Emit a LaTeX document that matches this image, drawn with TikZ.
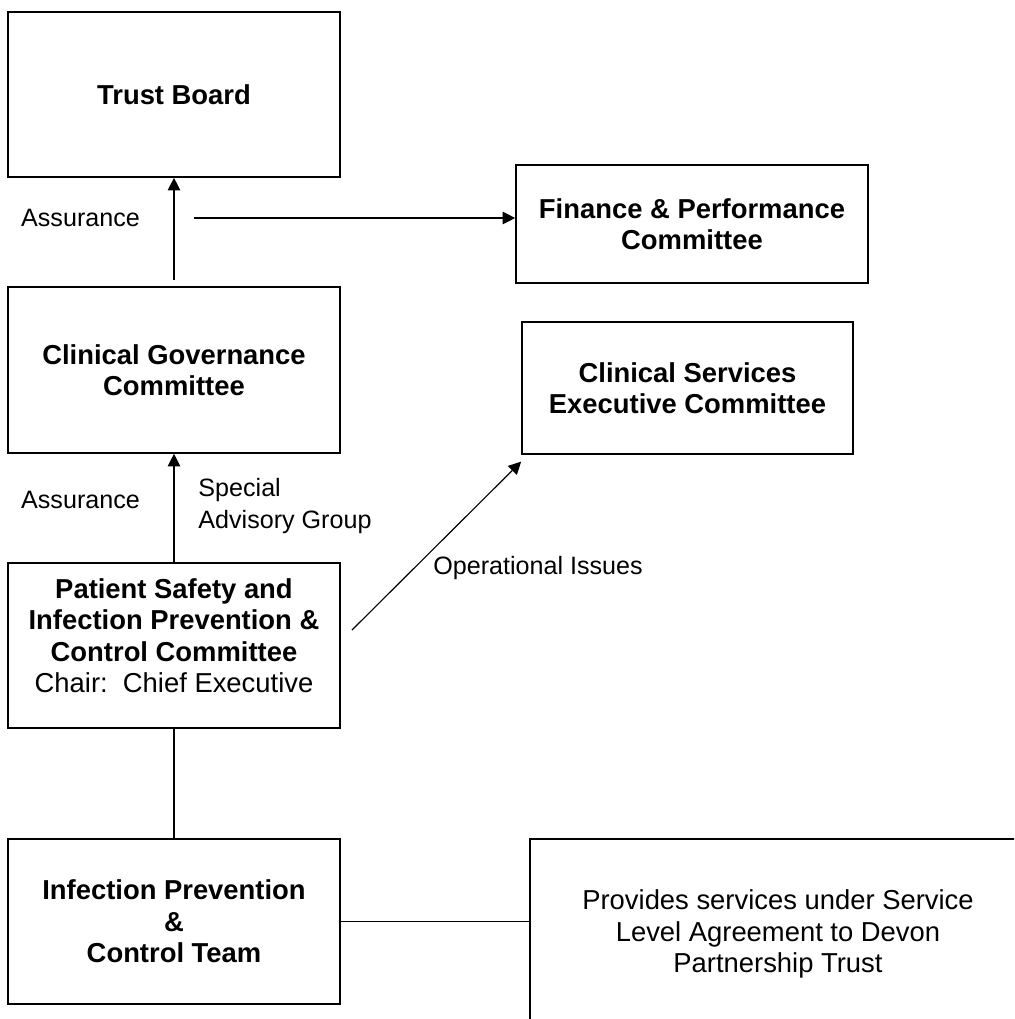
\documentclass[tikz,border=0pt]{standalone}
\usepackage{fontspec}
\setmainfont{Liberation Sans}
\usetikzlibrary{arrows.meta, positioning, calc}
\tikzset{
    box/.style={rectangle, draw, line width=0.7pt, align=center, inner sep=0pt, font=\fontsize{12}{13.8}\selectfont\bfseries, minimum width=145.4pt, minimum height=72.3pt},
    plainbox/.style={box, font=\fontsize{12}{13.8}\selectfont},
    lbl/.style={inner sep=0pt, font=\fontsize{11}{14}\selectfont},
    arrow/.style={-{Triangle[length=5.5pt, width=5.5pt]}, line width=0.5pt},
    link/.style={line width=0.5pt},
}
\begin{document}
\begin{tikzpicture}[x=0.438pt, y=-0.438pt]
    \useasboundingbox (0,0) rectangle (1014,1019);
    \clip (0,0) rectangle (1014,1019);

    % Left column
    \node[box] (board) at (174,94.5) {Trust Board};
    \node[box, minimum height=72.7pt] (govern) at (174,370) {Clinical Governance\\Committee};
    \node[box, text depth=8.8pt] (safety) at (174,645.5) {Patient Safety and\\Infection Prevention \&\\Control Committee\\\mdseries Chair:~~Chief Executive};
    \node[box] (ipcteam) at (174,921.5) {Infection Prevention\\\&\\Control Team};

    % Right column
    \node[box, minimum width=154.2pt, minimum height=51.7pt] (finance) at (692,224) {Finance \& Performance\\Committee};
    \node[box, minimum width=145pt, minimum height=57.8pt] (services) at (687.5,388) {Clinical Services\\Executive Committee};
    \node[plainbox, minimum width=217.2pt, minimum height=83.2pt] (devon) at (778,934) {Provides services under Service\\Level Agreement to Devon\\Partnership Trust};

    % Labels
    \node[lbl] (assure1) at (80.5,218) {Assurance};
    \node[lbl] (assure2) at (80.5,500) {Assurance};
    \node[lbl, anchor=west, align=left] (advisory) at (198,506) {Special\\Advisory Group};
    \node[lbl] (opissues) at (538,568) {Operational Issues};

    % Free ends
    \coordinate (finstart) at (194,218);
    \coordinate (opstart) at (352,630);

    % Connectors
    \draw[arrow, shorten <=2.6pt] (govern.north) -- (board.south);
    \draw[arrow] (finstart) -- (finstart -| finance.west);
    \draw[arrow] (safety.north) -- (govern.south);
    \draw[arrow] (opstart) -- ([yshift=-3pt]services.south west);
    \draw[link] (safety.south) -- (ipcteam.north);
    \draw[link] (ipcteam.east) -- (ipcteam.east -| devon.west);
\end{tikzpicture}
\end{document}
